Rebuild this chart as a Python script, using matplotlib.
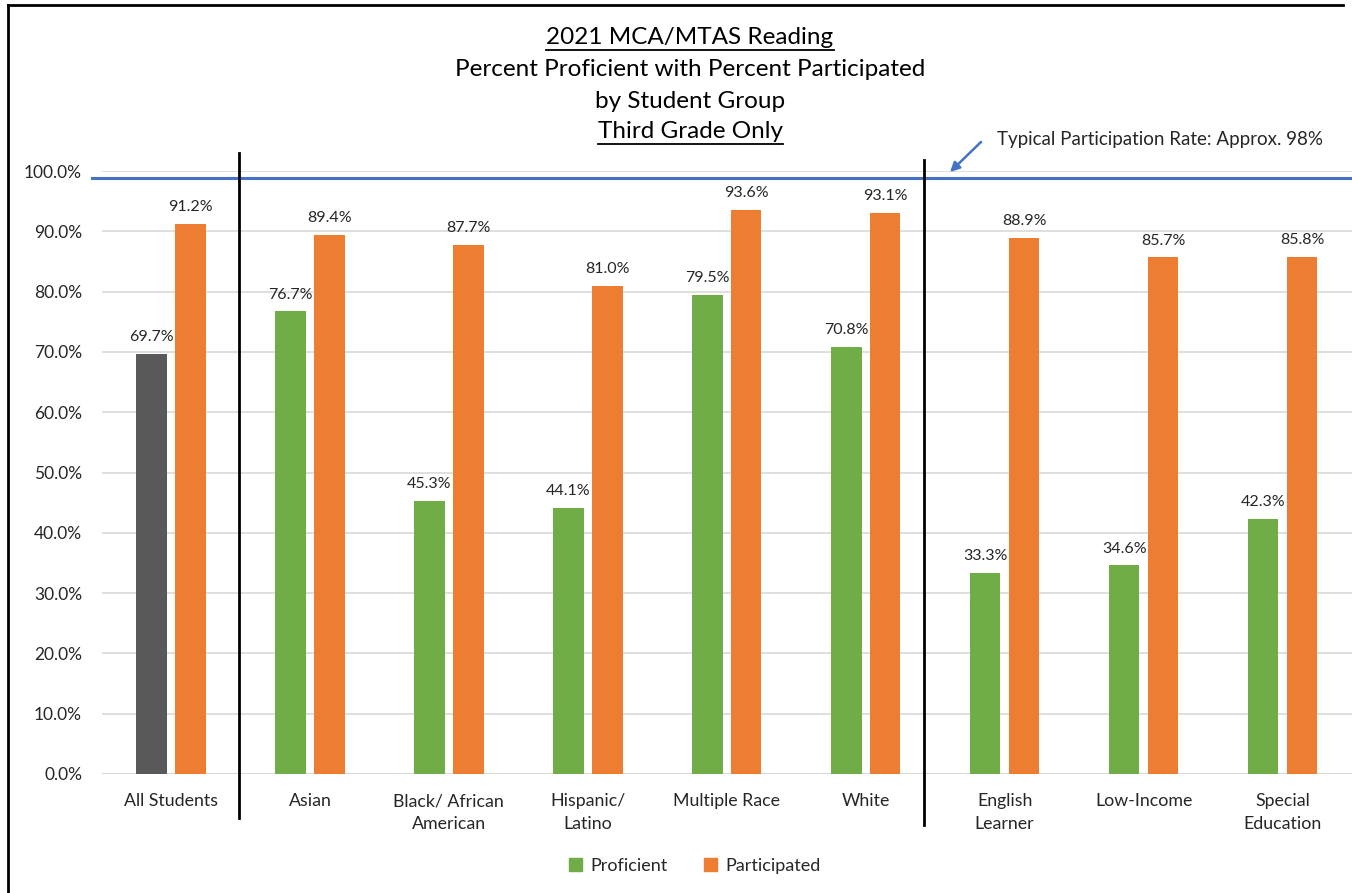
import matplotlib
matplotlib.use("Agg")
import matplotlib.pyplot as plt
from matplotlib.lines import Line2D
from matplotlib.patches import Patch, FancyArrowPatch

plt.rcParams['font.family'] = ['Lato', 'DejaVu Sans']

groups = ["All Students", "Asian", "Black/ African\nAmerican", "Hispanic/\nLatino",
          "Multiple Race", "White", "English\nLearner", "Low-Income", "Special\nEducation"]
proficient = [69.7, 76.7, 45.3, 44.1, 79.5, 70.8, 33.3, 34.6, 42.3]
participated = [91.2, 89.4, 87.7, 81.0, 93.6, 93.1, 88.9, 85.7, 85.8]
typical_rate = 98.9
yticks = [0, 10, 20, 30, 40, 50, 60, 70, 80, 90, 100]

GREEN = "#70AD47"
ORANGE = "#ED7D31"
GRAY = "#595959"
BLUE = "#4472C4"
TXT = "#262626"

W, H = 1352, 893
fig = plt.figure(figsize=(W / 100, H / 100), dpi=100)
ax = fig.add_axes([101.5 / W, 1 - 774 / H, 1 - 101.5 / W, (774 - 171) / H])

x = list(range(len(groups)))
bw = 0.22
off = 0.14
prof_colors = [GRAY] + [GREEN] * (len(groups) - 1)
ax.bar([i - off for i in x], proficient, bw, color=prof_colors, zorder=3)
ax.bar([i + off for i in x], participated, bw, color=ORANGE, zorder=3)

for i in x:
    ax.annotate(f"{proficient[i]:.1f}%", (i - off, proficient[i]), xytext=(0, 7),
                textcoords="offset points", ha="center", va="bottom", fontsize=11.5, color=TXT)
    ax.annotate(f"{participated[i]:.1f}%", (i + off, participated[i]), xytext=(0, 7),
                textcoords="offset points", ha="center", va="bottom", fontsize=11.5, color=TXT)

ax.set_xlim(-0.5, 8.5)
ax.set_ylim(0, 100)
ax.set_yticks(yticks)
ax.set_yticklabels([f"{v:.1f}%" for v in yticks], fontsize=12.5, color=TXT)
ax.set_xticks(x)
ax.set_xticklabels(groups, fontsize=12.8, color=TXT, linespacing=1.5)
ax.tick_params(length=0, pad=14)
ax.tick_params(axis="y", pad=14)
ax.grid(axis="y", color="#D9D9D9", lw=1.2, zorder=0)
for s in ax.spines.values():
    s.set_visible(False)
ax.axhline(0, color="#D9D9D9", lw=1.5, zorder=2)

# typical participation line
ax.plot([-0.568, 8.5], [typical_rate, typical_rate], color=BLUE, lw=2.2, clip_on=False, zorder=4)

# group separators (figure pixel positions)
def vline(px, y0, y1):
    fig.add_artist(Line2D([px / W, px / W], [1 - y0 / H, 1 - y1 / H], color="black", lw=2))

vline(239, 153, 818)
vline(924, 160, 825)

# arrow + note
fig.add_artist(FancyArrowPatch((983 / W, 1 - 140 / H), (948 / W, 1 - 174 / H),
                               transform=fig.transFigure, arrowstyle="-|>",
                               mutation_scale=14, color=BLUE, lw=1.8))
fig.text(997 / W, 1 - 140 / H, "Typical Participation Rate: Approx. 98%", fontsize=13.5,
         color=TXT, va="center", ha="left")

# title
titles = ["2021 MCA/MTAS Reading", "Percent Proficient with Percent Participated",
          "by Student Group", "Third Grade Only"]
ys = [38, 70, 101, 132]
underline = [True, False, False, True]
tobjs = []
for t, yy in zip(titles, ys):
    tobjs.append(fig.text(690 / W, 1 - yy / H, t, fontsize=17.5, color="black",
                          ha="center", va="center"))
fig.canvas.draw()
r = fig.canvas.get_renderer()
for tobj, u, yy in zip(tobjs, underline, ys):
    if u:
        bb = tobj.get_window_extent(r)
        fig.add_artist(Line2D([bb.x0 / W, bb.x1 / W], [1 - (yy + 12) / H] * 2,
                              color="black", lw=1.3))

# border
fig.add_artist(Line2D([8 / W, 8 / W], [0, 1 - 5 / H], color="black", lw=2))
fig.add_artist(Line2D([8 / W, 1343 / W], [1 - 5 / H, 1 - 5 / H], color="black", lw=2))

handles = [Patch(color=GREEN, label="Proficient"), Patch(color=ORANGE, label="Participated")]
fig.legend(handles=handles, loc="center", bbox_to_anchor=(695 / W, 1 - 866 / H), ncol=2,
           frameon=False, fontsize=13, handlelength=0.7, handleheight=0.7,
           handletextpad=0.5, columnspacing=2.0, labelcolor=TXT)

fig.savefig("out.png", dpi=100)
